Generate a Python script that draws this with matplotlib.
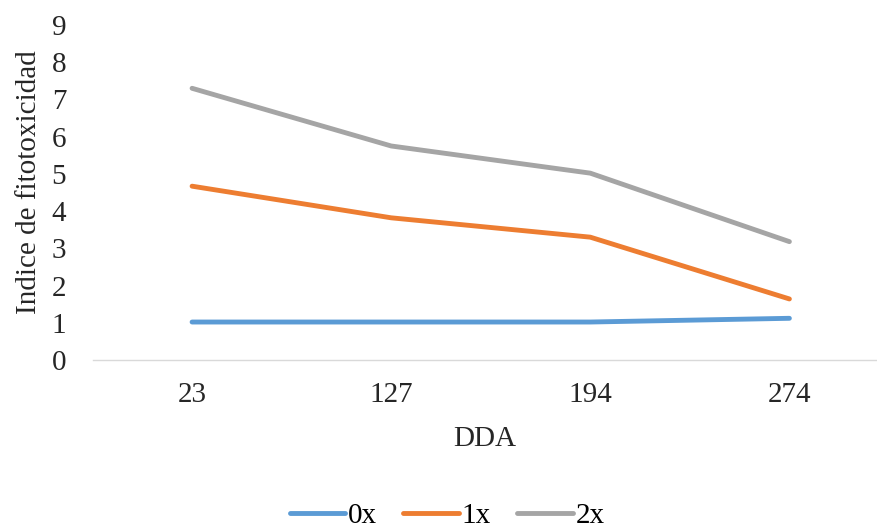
import matplotlib
matplotlib.use("Agg")
import matplotlib.pyplot as plt

# data
dda = ["23", "127", "194", "274"]
serie_0x = [1.02, 1.02, 1.02, 1.12]
serie_1x = [4.67, 3.82, 3.30, 1.64]
serie_2x = [7.30, 5.75, 5.02, 3.18]
series_names = ["0x", "1x", "2x"]
colors = ["#5B9BD5", "#ED7D31", "#A5A5A5"]

plt.rcParams['font.family'] = ['Liberation Serif', 'DejaVu Serif']

fig = plt.figure(figsize=(8.77, 5.29), dpi=100)
ax = fig.add_axes([0.1055, 0.3195, 0.8945, 0.6332])

x = range(len(dda))
for vals, name, c in zip([serie_0x, serie_1x, serie_2x], series_names, colors):
    ax.plot(x, vals, color=c, linewidth=3.5, label=name, solid_capstyle='round')

ax.set_xlim(-0.5, 3.44)
ax.set_ylim(0, 9)
ax.set_yticks(range(0, 10))
ax.set_xticks(list(x))
ax.set_xticklabels(dda)
ax.tick_params(length=0, labelsize=21, colors='#262626')
ax.tick_params(axis='x', pad=16)
ax.tick_params(axis='y', pad=19)

for s in ['top', 'right', 'left']:
    ax.spines[s].set_visible(False)
ax.spines['bottom'].set_color('#d9d9d9')
ax.spines['bottom'].set_linewidth(1)

ax.set_xlabel("DDA", fontsize=21, color='#262626', labelpad=13)
ax.set_ylabel("Indice de fitotoxicidad", fontsize=21, color='#262626')
ax.yaxis.set_label_coords(-0.064, 0.53)

fig.legend(loc='center', bbox_to_anchor=(0.51, 0.025), ncol=3, frameon=False,
           fontsize=21, handlelength=1.9, handletextpad=0.1, columnspacing=0.9)

plt.savefig("out.png", dpi=100)
